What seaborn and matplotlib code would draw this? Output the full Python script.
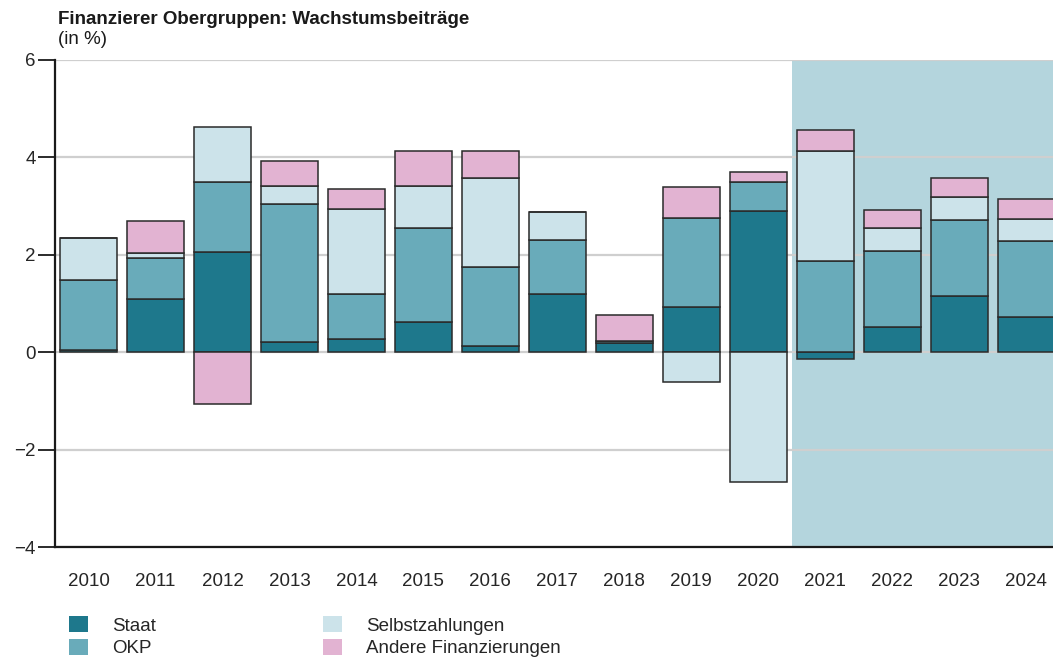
import numpy as np
import seaborn as sns
import matplotlib.pyplot as plt
from matplotlib.patches import Patch

# values (growth contributions in %)
years = [str(y) for y in range(2010, 2025)]
staat = [0.05, 1.09, 2.05, 0.20, 0.27, 0.63, 0.13, 1.20, 0.18, 0.92, 2.90, -0.14, 0.51, 1.15, 0.73]
okp = [1.43, 0.85, 1.45, 2.85, 0.93, 1.92, 1.62, 1.11, 0.05, 1.84, 0.60, 1.87, 1.56, 1.57, 1.56]
selbst = [0.87, 0.10, 1.13, 0.37, 1.74, 0.87, 1.82, 0.56, 0.00, -0.61, -2.67, 2.27, 0.48, 0.46, 0.45]
andere = [0.00, 0.65, -1.07, 0.50, 0.41, 0.72, 0.56, 0.00, 0.54, 0.64, 0.20, 0.43, 0.37, 0.39, 0.41]

series = ['Staat', 'OKP', 'Selbstzahlungen', 'Andere Finanzierungen']
values = [staat, okp, selbst, andere]
colors = ['#1e788c', '#69abba', '#cce3ea', '#e2b3d2']
shade_color = '#b4d5dd'

sns.set_theme(style='white')
plt.rcParams['font.family'] = ['Liberation Sans', 'DejaVu Sans']
fs = 13.5

fig = plt.figure(figsize=(10.53, 6.57), dpi=100)
ax = fig.add_axes([55 / 1053, 1 - 547 / 657, 1 - 55 / 1053, (547 - 60) / 657])

# forecast area
ax.axvspan(10.5, 15, color=shade_color, zorder=0, lw=0)

# stacked bars, positives up from 0, negatives down from 0
pos = np.zeros(len(years))
neg = np.zeros(len(years))
for name, vals, col in zip(series, values, colors):
    v = np.array(vals)
    bottom = np.where(v >= 0, pos, neg)
    sns.barplot(x=years, y=v, bottom=bottom, color=col, saturation=1, width=0.85,
                edgecolor='#2a2a2a', linewidth=1.1, ax=ax, zorder=2)
    pos = pos + np.where(v > 0, v, 0)
    neg = neg + np.where(v < 0, v, 0)

ax.set_xlim(-0.5, 14.4)
ax.set_ylim(-4, 6)
ax.set_yticks([-4, -2, 0, 2, 4, 6])
ax.set_yticklabels(['\u22124', '\u22122', '0', '2', '4', '6'], fontsize=fs)
ax.yaxis.grid(True, color='#cfcfcf', lw=1.6)
ax.xaxis.grid(False)
ax.set_axisbelow(True)
for gl in ax.get_ygridlines():
    gl.set_zorder(1)

# category boundaries as ticks, labels in the middle of each category
ax.set_xticks(np.arange(-0.5, 14.5, 1.0))
ax.set_xticklabels([])
ax.set_xticks(np.arange(len(years)), minor=True)
ax.set_xticklabels(years, minor=True, fontsize=fs)
ax.tick_params(axis='x', which='major', length=12, width=1.3, color='#1a1a1a', direction='out')
ax.tick_params(axis='x', which='minor', length=0, pad=19)
ax.tick_params(axis='y', length=12, width=1.3, color='#1a1a1a', pad=2, direction='out', left=True)
ax.set_xlabel('')
ax.set_ylabel('')

for s in ['top', 'right']:
    ax.spines[s].set_visible(False)
for s in ['left', 'bottom']:
    ax.spines[s].set_color('#1a1a1a')
    ax.spines[s].set_linewidth(1.6)
    ax.spines[s].set_zorder(5)

fig.text(58 / 1053, 1 - 19 / 657, 'Finanzierer Obergruppen: Wachstumsbeiträge',
         fontsize=13.5, fontweight='bold', va='center', ha='left', color='#1a1a1a')
fig.text(58 / 1053, 1 - 40 / 657, '(in %)', fontsize=13.5, va='center', ha='left', color='#1a1a1a')

handles = [Patch(facecolor=c, edgecolor='none', label=n) for n, c in zip(series, colors)]
fig.legend(handles=handles, ncol=2, loc='upper left',
           bbox_to_anchor=(69 / 1053, 1 - 616 / 657), frameon=False, fontsize=fs,
           handlelength=1.0, handleheight=0.95, handletextpad=1.3, columnspacing=8.9,
           labelspacing=0.22, borderpad=0, borderaxespad=0)

fig.savefig('out.png', dpi=100)
